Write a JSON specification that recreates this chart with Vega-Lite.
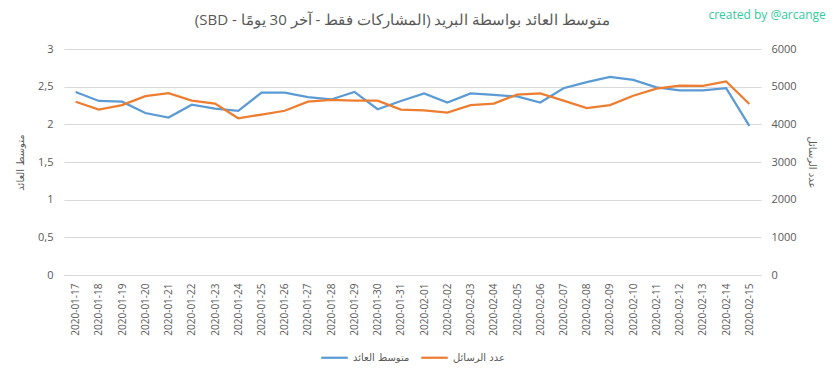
{
  "$schema": "https://vega.github.io/schema/vega-lite/v6.json",
  "width": 697,
  "height": 226,
  "autosize": {"type": "none"},
  "padding": {"left": 64, "top": 49, "right": 72, "bottom": 104},
  "background": "white",
  "config": {
    "view": {"stroke": null},
    "font": "Open Sans",
    "axis": {"labelColor": "#595959", "titleColor": "#595959", "labelFont": "Open Sans", "titleFont": "DejaVu Sans", "titleFontWeight": "normal", "ticks": false, "tickSize": 0},
    "legend": {"layout": {"bottom": {"anchor": "middle"}}}
  },
  "title": {
    "text": "\u202bمتوسط العائد بواسطة البريد (المشاركات فقط - آخر 30 يومًا - SBD)\u202c",
    "font": "Open Sans",
    "fontSize": 15,
    "fontWeight": "normal",
    "color": "#595959",
    "anchor": "middle",
    "offset": -19,
    "dx": -10
  },
  "data": {
    "values": [
      {"date": "2020-01-17", "avg": 2.43, "count": 4600},
      {"date": "2020-01-18", "avg": 2.31, "count": 4390},
      {"date": "2020-01-19", "avg": 2.30, "count": 4510},
      {"date": "2020-01-20", "avg": 2.15, "count": 4750},
      {"date": "2020-01-21", "avg": 2.09, "count": 4830},
      {"date": "2020-01-22", "avg": 2.26, "count": 4630},
      {"date": "2020-01-23", "avg": 2.21, "count": 4550},
      {"date": "2020-01-24", "avg": 2.18, "count": 4160},
      {"date": "2020-01-25", "avg": 2.42, "count": 4260},
      {"date": "2020-01-26", "avg": 2.42, "count": 4360},
      {"date": "2020-01-27", "avg": 2.36, "count": 4600},
      {"date": "2020-01-28", "avg": 2.33, "count": 4650},
      {"date": "2020-01-29", "avg": 2.43, "count": 4630},
      {"date": "2020-01-30", "avg": 2.20, "count": 4630},
      {"date": "2020-01-31", "avg": 2.31, "count": 4390},
      {"date": "2020-02-01", "avg": 2.41, "count": 4370},
      {"date": "2020-02-02", "avg": 2.29, "count": 4310},
      {"date": "2020-02-03", "avg": 2.41, "count": 4510},
      {"date": "2020-02-04", "avg": 2.39, "count": 4550},
      {"date": "2020-02-05", "avg": 2.37, "count": 4790},
      {"date": "2020-02-06", "avg": 2.29, "count": 4820},
      {"date": "2020-02-07", "avg": 2.48, "count": 4630},
      {"date": "2020-02-08", "avg": 2.56, "count": 4430},
      {"date": "2020-02-09", "avg": 2.63, "count": 4510},
      {"date": "2020-02-10", "avg": 2.59, "count": 4760},
      {"date": "2020-02-11", "avg": 2.49, "count": 4950},
      {"date": "2020-02-12", "avg": 2.45, "count": 5030},
      {"date": "2020-02-13", "avg": 2.45, "count": 5020},
      {"date": "2020-02-14", "avg": 2.48, "count": 5140},
      {"date": "2020-02-15", "avg": 1.98, "count": 4540}
    ]
  },
  "encoding": {
    "x": {
      "field": "date",
      "type": "ordinal",
      "sort": null,
      "scale": {"type": "point", "padding": 0.5},
      "axis": {
        "title": null,
        "labelAngle": -90,
        "labelFontSize": 10,
        "labelPadding": 8,
        "domain": true,
        "domainColor": "#d9d9d9",
        "grid": false
      }
    }
  },
  "layer": [
    {
      "mark": {"type": "line", "strokeWidth": 2.25},
      "encoding": {
        "y": {
          "field": "avg",
          "type": "quantitative",
          "scale": {"domain": [0, 3]},
          "axis": {
            "values": [0, 0.5, 1, 1.5, 2, 2.5, 3],
            "labelExpr": "replace(toString(datum.value), '.', ',')",
            "labelOverlap": false,
            "labelFontSize": 11,
            "labelPadding": 11,
            "grid": true,
            "gridColor": "#d9d9d9",
            "domain": false,
            "title": "متوسط العائد",
            "titleFontSize": 10,
            "titlePadding": 12
          }
        },
        "color": {
          "datum": "متوسط العائد",
          "scale": {"domain": ["متوسط العائد", "عدد الرسائل"], "range": ["#5b9bd5", "#ed7d31"]},
          "legend": {
            "title": null,
            "orient": "bottom",
            "direction": "horizontal",
            "symbolType": "stroke",
            "symbolStrokeWidth": 2.25,
            "symbolSize": 700,
            "labelFont": "DejaVu Sans",
            "labelFontSize": 10,
            "labelColor": "#595959",
            "columnPadding": 6,
            "offset": 7
          }
        }
      }
    },
    {
      "mark": {"type": "line", "strokeWidth": 2.25},
      "encoding": {
        "y": {
          "field": "count",
          "type": "quantitative",
          "scale": {"domain": [0, 6000]},
          "axis": {
            "orient": "right",
            "values": [0, 1000, 2000, 3000, 4000, 5000, 6000],
            "format": "d",
            "labelFontSize": 11,
            "labelPadding": 10,
            "grid": false,
            "domain": false,
            "title": "عدد الرسائل",
            "titleFontSize": 10,
            "titlePadding": 10
          }
        },
        "color": {"datum": "عدد الرسائل"}
      }
    },
    {
      "data": {"values": [{"note": "created by @arcange"}]},
      "mark": {"type": "text", "align": "left", "baseline": "middle", "color": "#2fcc9c", "fontSize": 12, "font": "Open Sans", "dx": -41},
      "encoding": {
        "x": {"datum": "2020-02-15", "type": "ordinal"},
        "y": {"datum": 3.45, "type": "quantitative", "scale": {"domain": [0, 3]}, "axis": null},
        "text": {"field": "note"}
      }
    }
  ],
  "resolve": {"scale": {"y": "independent"}}
}
